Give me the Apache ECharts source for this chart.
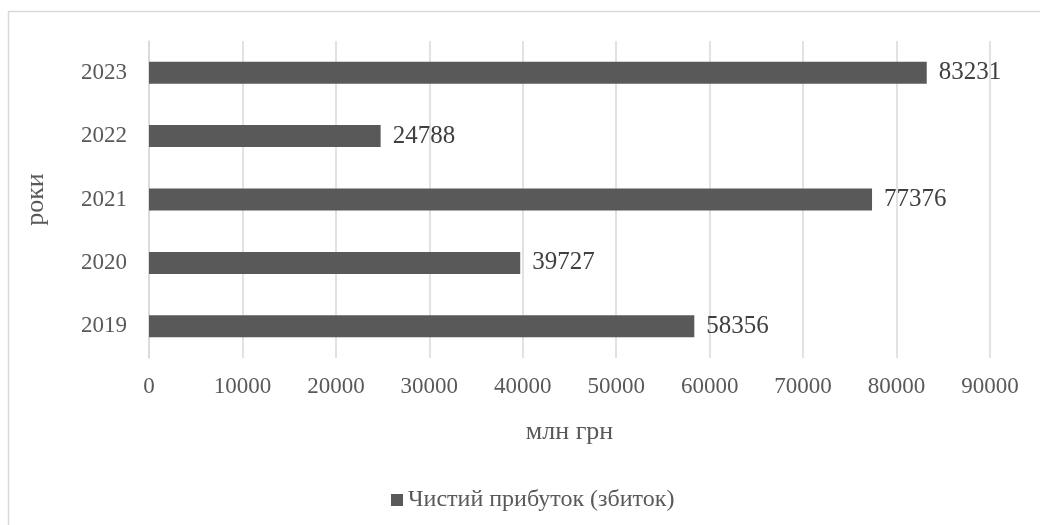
<!DOCTYPE html>
<html>
<head>
<meta charset="utf-8">
<script src="https://cdn.jsdelivr.net/npm/echarts@6/dist/echarts.min.js"></script>
<style>
  html, body { margin: 0; padding: 0; background: #fff; }
  #chart { width: 1040px; height: 525px; }
</style>
</head>
<body>
<div id="chart"></div>
<script>
// Net profit (loss) by year, UAH million
const years = ['2019', '2020', '2021', '2022', '2023'];
const netProfit = [58356, 39727, 77376, 24788, 83231];
const seriesName = 'Чистий прибуток (збиток)';
const xAxisTitle = 'млн грн';
const yAxisTitle = 'роки';

const font = '"Liberation Serif", "Times New Roman", serif';
const textColor = '#595959';

const chart = echarts.init(document.getElementById('chart'), null, { renderer: 'canvas' });

chart.setOption({
  backgroundColor: '#fff',
  animation: false,
  textStyle: { fontFamily: font, color: textColor },
  graphic: [{
    type: 'rect',
    shape: { x: 8.5, y: 11.5, width: 1100, height: 600 },
    style: { fill: 'none', stroke: '#d9d9d9', lineWidth: 1.5 },
    silent: true,
    z: -1
  }],
  grid: { left: 149, right: 50, top: 41, bottom: 167, containLabel: false },
  legend: {
    data: [seriesName],
    left: 386,
    top: 483,
    itemWidth: 12,
    itemHeight: 12,
    itemGap: 4,
    icon: 'rect',
    textStyle: { fontFamily: font, fontSize: 24, color: textColor }
  },
  xAxis: {
    type: 'value',
    min: 0,
    max: 90000,
    interval: 10000,
    name: xAxisTitle,
    nameLocation: 'middle',
    nameGap: 61,
    nameTextStyle: { fontFamily: font, fontSize: 26, color: textColor },
    axisLine: { show: false },
    axisTick: { show: false },
    axisLabel: {
      fontFamily: font, fontSize: 23, color: textColor, margin: 17,
      formatter: v => String(v)
    },
    splitLine: { show: true, lineStyle: { color: '#d9d9d9', width: 1.5 } }
  },
  yAxis: {
    type: 'category',
    data: years,
    name: yAxisTitle,
    nameLocation: 'middle',
    nameGap: 100,
    nameRotate: 90,
    nameTextStyle: { fontFamily: font, fontSize: 26, color: textColor },
    axisLine: { show: true, lineStyle: { color: '#d9d9d9', width: 1.5 } },
    axisTick: { show: false },
    axisLabel: { fontFamily: font, fontSize: 23, color: textColor, margin: 22 }
  },
  series: [{
    name: seriesName,
    type: 'bar',
    data: netProfit,
    barWidth: 22,
    itemStyle: { color: '#595959' },
    label: {
      show: true,
      position: 'right',
      distance: 12,
      fontFamily: font,
      fontSize: 25,
      color: '#404040'
    }
  }]
});
</script>
</body>
</html>
